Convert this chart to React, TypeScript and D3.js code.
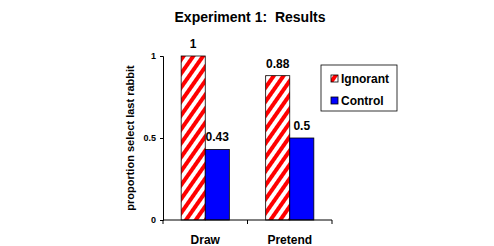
import React, { useRef, useEffect } from 'react';
import * as d3 from 'd3';

const categories = ['Draw', 'Pretend'];
const seriesNames = ['Ignorant', 'Control'];
const ignorantValues = [1, 0.88];
const controlValues = [0.43, 0.5];
const yTicks = [0, 0.5, 1];

const FONT = 'Arial, "Liberation Sans", Helvetica, sans-serif';

const App = () => {
  const svgRef = useRef<SVGSVGElement>(null);

  useEffect(() => {
    const svg = d3.select(svgRef.current);
    svg.selectAll('*').remove();

    const width = 494;
    const height = 246;
    const margin = { top: 56, left: 163, right: 162, bottom: 26 };
    const innerWidth = width - margin.left - margin.right;
    const innerHeight = height - margin.top - margin.bottom;

    svg.attr('width', width).attr('height', height);

    // hatch pattern for the Ignorant series
    const defs = svg.append('defs');
    const pat = defs.append('pattern')
      .attr('id', 'hatch')
      .attr('patternUnits', 'userSpaceOnUse')
      .attr('width', 8)
      .attr('height', 8)
      .attr('patternTransform', 'rotate(35)');
    pat.append('rect').attr('width', 8).attr('height', 8).attr('fill', 'white');
    pat.append('rect').attr('x', 0).attr('width', 4).attr('height', 8).attr('fill', '#ff0000');

    // Title
    svg.append('text')
      .attr('x', 250)
      .attr('y', 22)
      .attr('text-anchor', 'middle')
      .style('font-family', FONT)
      .style('font-size', '14px')
      .style('font-weight', 'bold')
      .style('white-space', 'pre')
      .text('Experiment 1:  Results');

    const g = svg.append('g')
      .attr('transform', `translate(${margin.left},${margin.top})`);

    const x0 = d3.scaleBand().domain(categories).range([0, innerWidth]).paddingInner(0.43).paddingOuter(0.215);
    const x1 = d3.scaleBand().domain(seriesNames).range([0, x0.bandwidth()]);
    const y = d3.scaleLinear().domain([0, 1]).range([innerHeight, 0]);

    const data = categories.map((c, i) => ({
      cat: c,
      vals: [
        { key: 'Ignorant', value: ignorantValues[i] },
        { key: 'Control', value: controlValues[i] },
      ],
    }));

    const groups = g.selectAll('.grp')
      .data(data)
      .enter().append('g')
      .attr('transform', d => `translate(${x0(d.cat)},0)`);

    groups.selectAll('rect')
      .data(d => d.vals)
      .enter().append('rect')
      .attr('x', d => x1(d.key)!)
      .attr('y', d => y(d.value))
      .attr('width', x1.bandwidth())
      .attr('height', d => innerHeight - y(d.value))
      .attr('fill', d => d.key === 'Ignorant' ? 'url(#hatch)' : '#0000ff')
      .attr('stroke', '#000')
      .attr('stroke-width', 0.8);

    groups.selectAll('.val')
      .data(d => d.vals)
      .enter().append('text')
      .attr('x', d => x1(d.key)! + x1.bandwidth() / 2)
      .attr('y', d => y(d.value) - 8)
      .attr('text-anchor', 'middle')
      .style('font-family', FONT)
      .style('font-size', '12px')
      .style('font-weight', 'bold')
      .text(d => String(d.value));

    // Axes
    const yAxis = g.append('g')
      .call(d3.axisLeft(y).tickValues(yTicks).tickSize(3).tickPadding(4).tickFormat(d => String(d)));
    const xAxis = g.append('g')
      .attr('transform', `translate(0,${innerHeight})`)
      .call(d3.axisBottom(x0).tickSize(0).tickPadding(15));

    // category boundary ticks
    [0, innerWidth / 2, innerWidth].forEach(t => {
      g.append('line')
        .attr('x1', t).attr('x2', t)
        .attr('y1', innerHeight).attr('y2', innerHeight + 4)
        .attr('stroke', '#000');
    });

    [xAxis, yAxis].forEach(axis => {
      axis.select('.domain').attr('stroke', '#000');
      axis.selectAll('line').attr('stroke', '#000');
      axis.selectAll('text')
        .style('font-family', FONT)
        .style('font-weight', 'bold')
        .attr('fill', '#000');
    });
    yAxis.selectAll('text').style('font-size', '9px');
    xAxis.select('.domain').attr('d', `M0,0H${innerWidth}`);
    xAxis.selectAll('text').style('font-size', '12px');

    // y axis title
    g.append('text')
      .attr('transform', 'rotate(-90)')
      .attr('x', -innerHeight / 2)
      .attr('y', -29)
      .attr('text-anchor', 'middle')
      .style('font-family', FONT)
      .style('font-size', '11px')
      .style('font-weight', 'bold')
      .text('proportion select last rabbit');

    // Legend
    const legend = svg.append('g').attr('transform', 'translate(321,65)');
    legend.append('rect')
      .attr('width', 76).attr('height', 46)
      .attr('fill', 'white').attr('stroke', '#000').attr('stroke-width', 0.8);
    seriesNames.forEach((s, i) => {
      const cy = 14 + i * 22;
      legend.append('rect')
        .attr('x', 10).attr('y', cy - 4)
        .attr('width', 7).attr('height', 7)
        .attr('fill', s === 'Ignorant' ? 'url(#hatch)' : '#0000ff')
        .attr('stroke', '#000').attr('stroke-width', 0.8);
      legend.append('text')
        .attr('x', 20).attr('y', cy + 4)
        .style('font-family', FONT)
        .style('font-size', '12px')
        .style('font-weight', 'bold')
        .text(s);
    });
  }, []);

  return (
    <svg
      ref={svgRef}
      style={{ position: 'absolute', left: 0, top: 0, background: '#fff' }}
    />
  );
};

export default App;
